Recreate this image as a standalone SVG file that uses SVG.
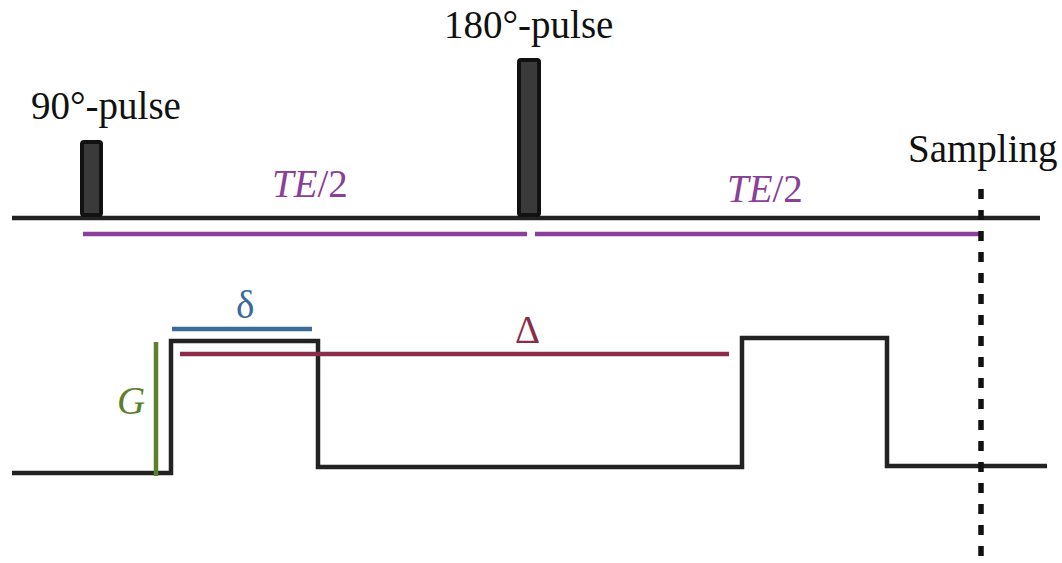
<svg xmlns="http://www.w3.org/2000/svg" width="1062" height="563" viewBox="0 0 1062 563">
<style>
.lbl{font-family:"Liberation Serif","Times New Roman",serif;font-size:39px;fill:#111}
.blk{stroke:#222;stroke-width:4.5;fill:none;stroke-linejoin:miter}
.pulse{fill:#3a3a3a;stroke:#111;stroke-width:4}
.te{stroke:#8a3f98;stroke-width:4.5}
.it{font-style:italic}
</style>
<rect width="1062" height="563" fill="#fff"/>
<g id="connectors">
<line class="blk" x1="12" y1="218" x2="1040" y2="218"/>
<line class="te" x1="83" y1="234" x2="527" y2="234"/>
<line class="te" x1="535" y1="234" x2="980" y2="234"/>
<path class="blk" d="M12 473 H171 V341 H318 V467 H742 V338 H887 V466 H1047"/>
<line x1="156" y1="342" x2="156" y2="476" stroke="#5b7f2b" stroke-width="4.5"/>
<line x1="172" y1="329" x2="312" y2="329" stroke="#3b6b9b" stroke-width="4.5"/>
<line x1="180" y1="354" x2="729" y2="354" stroke="#8c2c4a" stroke-width="4.5"/>
<line x1="981" y1="189" x2="981" y2="563" stroke="#111" stroke-width="5.5" stroke-dasharray="10 11"/>
</g>
<g id="pulse90">
<rect class="pulse" x="82" y="142" width="19" height="73" rx="2"/>
<text class="lbl" x="31" y="119">90°-pulse</text>
</g>
<g id="pulse180">
<rect class="pulse" x="519" y="60" width="20" height="155" rx="2"/>
<text class="lbl" x="444" y="38">180°-pulse</text>
</g>
<g id="sampling">
<text class="lbl" x="908" y="162">Sampling</text>
</g>
<g id="te1"><text class="lbl" x="272" y="197" style="fill:#8a3f98"><tspan class="it">TE</tspan>/2</text></g>
<g id="te2"><text class="lbl" x="727" y="202" style="fill:#8a3f98"><tspan class="it">TE</tspan>/2</text></g>
<g id="G"><text class="lbl it" x="117" y="414" style="fill:#5b7f2b">G</text></g>
<g id="delta"><text class="lbl" x="236" y="318" style="fill:#3b6b9b">δ</text></g>
<g id="Delta"><text class="lbl" x="515" y="343" style="fill:#8c2c4a">Δ</text></g>
</svg>
